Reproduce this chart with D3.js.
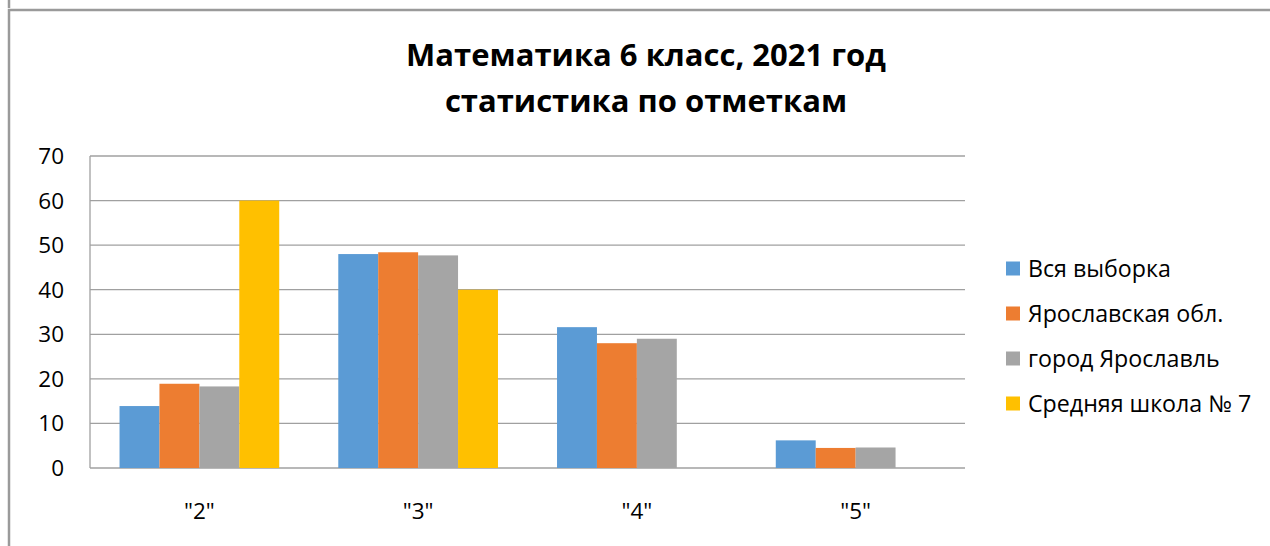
<!DOCTYPE html>
<html>
<head>
<meta charset="utf-8">
<script src="https://cdn.jsdelivr.net/npm/d3@7"></script>
<style>
  body { margin: 0; background: #fff; }
  svg { display: block; font-family: "Open Sans", "Noto Sans", sans-serif; }
</style>
</head>
<body>
<svg width="1270" height="546"></svg>
<script>
// categories (marks) and series
var marks = ['"2"', '"3"', '"4"', '"5"'];
var seriesNames = ["Вся выборка", "Ярославская обл.", "город Ярославль", "Средняя школа № 7"];
var allSample = [13.9, 48.0, 31.6, 6.2];
var region = [18.9, 48.4, 28.0, 4.5];
var city = [18.3, 47.7, 29.0, 4.6];
var school7 = [60.0, 40.0, 0, 0];
var colors = ["#5B9BD5", "#ED7D31", "#A5A5A5", "#FFC000"];
var yTicks = [0, 10, 20, 30, 40, 50, 60, 70];
var titleLines = ["Математика 6 класс, 2021 год", "статистика по отметкам"];

var seriesVals = [allSample, region, city, school7];

var svg = d3.select("svg");

// outer frame
svg.append("rect")
    .attr("x", 9).attr("y", 10)
    .attr("width", 1300).attr("height", 600)
    .attr("fill", "none")
    .attr("stroke", "#9a9a9a")
    .attr("stroke-width", 2.5);
svg.append("line")
    .attr("x1", 9).attr("x2", 9).attr("y1", 0).attr("y2", 8)
    .attr("stroke", "#9a9a9a").attr("stroke-width", 2.5);

var plot = {left: 90, right: 965, top: 156, bottom: 468};

var x0 = d3.scaleBand()
    .domain(marks)
    .range([plot.left, plot.right])
    .paddingInner(0.27)
    .paddingOuter(0.135);

var x1 = d3.scaleBand()
    .domain(d3.range(seriesNames.length))
    .range([0, x0.bandwidth()]);

var y = d3.scaleLinear()
    .domain([0, 70])
    .range([plot.bottom, plot.top]);

// gridlines
svg.append("g")
  .selectAll("line")
  .data(yTicks)
  .enter().append("line")
    .attr("x1", plot.left).attr("x2", plot.right)
    .attr("y1", function(d) { return y(d); })
    .attr("y2", function(d) { return y(d); })
    .attr("stroke", "#a0a0a0")
    .attr("stroke-width", 1.3);

// left axis line
svg.append("line")
    .attr("x1", plot.left).attr("x2", plot.left)
    .attr("y1", plot.top).attr("y2", plot.bottom)
    .attr("stroke", "#a0a0a0").attr("stroke-width", 1.3);

// bars
var groups = svg.append("g")
  .selectAll("g")
  .data(marks)
  .enter().append("g")
    .attr("transform", function(d) { return "translate(" + x0(d) + ",0)"; });

groups.selectAll("rect")
  .data(function(d, i) { return seriesVals.map(function(s, j) { return {s: j, v: s[i]}; }); })
  .enter().append("rect")
    .filter(function(d) { return d.v > 0; })
    .attr("x", function(d) { return x1(d.s); })
    .attr("width", x1.bandwidth())
    .attr("y", function(d) { return y(d.v); })
    .attr("height", function(d) { return y(0) - y(d.v); })
    .attr("fill", function(d) { return colors[d.s]; });

// y tick labels
svg.append("g")
  .selectAll("text")
  .data(yTicks)
  .enter().append("text")
    .attr("x", 64)
    .attr("y", function(d) { return y(d) + 8; })
    .attr("text-anchor", "end")
    .attr("font-size", 22.5)
    .attr("fill", "#000")
    .text(function(d) { return d; });

// x labels
svg.append("g")
  .selectAll("text")
  .data(marks)
  .enter().append("text")
    .attr("x", function(d) { return x0(d) + x0.bandwidth() / 2; })
    .attr("y", 519)
    .attr("text-anchor", "middle")
    .attr("font-size", 22.5)
    .attr("fill", "#000")
    .text(function(d) { return d; });

// title
svg.append("g")
  .selectAll("text")
  .data(titleLines)
  .enter().append("text")
    .attr("x", 646)
    .attr("y", function(d, i) { return 66 + i * 46; })
    .attr("text-anchor", "middle")
    .attr("font-size", 31)
    .attr("font-weight", "bold")
    .attr("fill", "#000")
    .text(function(d) { return d; });

// legend
var legend = svg.append("g")
  .selectAll("g")
  .data(seriesNames)
  .enter().append("g")
    .attr("transform", function(d, i) { return "translate(1006," + (268.5 + i * 45) + ")"; });

legend.append("rect")
    .attr("x", 0).attr("y", -7)
    .attr("width", 14).attr("height", 14)
    .attr("fill", function(d, i) { return colors[i]; });

legend.append("text")
    .attr("x", 22)
    .attr("y", 8)
    .attr("font-size", 23.2)
    .attr("fill", "#000")
    .text(function(d) { return d; });
</script>
</body>
</html>
